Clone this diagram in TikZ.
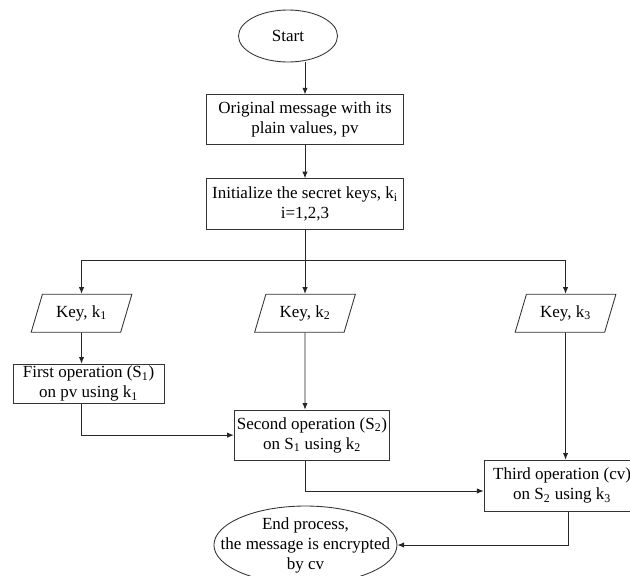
\documentclass[tikz,border=0pt]{standalone}
\usepackage{fontspec}
\setmainfont{Liberation Serif}
\usetikzlibrary{positioning,shapes.geometric,arrows.meta}

\begin{document}
\begin{tikzpicture}[x=0.75pt, y=0.75pt,
    font=\fontsize{12.75}{15}\selectfont,
    terminal/.style={ellipse, draw=black!80, line width=0.65pt, align=center},
    process/.style={rectangle, draw=black!80, line width=0.65pt, align=center, inner xsep=2pt, inner ysep=1pt},
    keydata/.style={trapezium, trapezium left angle=67, trapezium right angle=113, trapezium stretches=true, draw=black!80, line width=0.65pt, minimum width=75.75pt, minimum height=28.5pt, inner sep=1pt},
    flow/.style={-{Latex[length=5pt,width=4pt]}, draw=black!85, line width=0.65pt}]

        \useasboundingbox (0,0) rectangle (630,-575);

        \node[terminal, minimum width=74.25pt, minimum height=39pt] (start) at (288,-36) {Start};
        \node[process, minimum width=147.75pt, minimum height=37.5pt] (msg) [below=24pt of start, xshift=12.75pt] {Original message with its\\plain values, pv};
        \node[process, minimum width=147.75pt, minimum height=38pt] (init) [below=24.75pt of msg] {Initialize the secret keys, k\textsubscript{i}\\i=1,2,3};

        \node[keydata] (key2) [below=48pt of init] {Key, k\textsubscript{2}};
        \node[keydata] (key1) at ([xshift=-167.6pt]key2) {Key, k\textsubscript{1}};
        \node[keydata] (key3) at ([xshift=195.4pt]key2) {Key, k\textsubscript{3}};

        \node[process, minimum width=113.25pt, minimum height=29.25pt, inner ysep=0pt] (first) [below=23.25pt of key1, xshift=5.25pt] {First operation (S\textsubscript{1})\\on pv using k\textsubscript{1}};
        \node[process, minimum width=115.5pt, minimum height=37.5pt] (second) [below=57.75pt of key2, xshift=5.25pt] {Second operation (S\textsubscript{2})\\on S\textsubscript{1} using k\textsubscript{2}};
        \node[process, minimum width=117pt, minimum height=38.25pt] (third) [below=95.25pt of key3, xshift=-2.6pt] {Third operation (cv)\\on S\textsubscript{2} using k\textsubscript{3}};
        \node[terminal, minimum width=137.25pt, minimum height=58.5pt, inner xsep=-16pt, inner ysep=-1pt] (end) [below=33.75pt of second, xshift=-4.9pt] {End process,\\the message is encrypted\\by cv};

        % connectors
        \coordinate (fork) at ([yshift=-23.25pt]init.south);
        \draw[flow] (start.south -| msg.north) -- (msg.north);
        \draw[flow] (msg) -- (init);
        \draw[draw=black!85, line width=0.65pt] (init) -- (fork);
        \draw[flow] (fork) -| (key1);
        \draw[flow] (fork) -- (key2);
        \draw[flow] (fork) -| (key3);
        \draw[flow] (key1) -- (key1 |- first.north);
        \draw[flow] (key2) -- (key2 |- second.north);
        \draw[flow] (key3) -- (key3 |- third.north);
        \draw[flow] (first.south -| key1) |- (second.west);
        \draw[flow] (second.south -| key2) |- ([yshift=-4pt]third.west);
        \draw[flow] ([xshift=4.5pt]third.south) |- (end);

\end{tikzpicture}
\end{document}
